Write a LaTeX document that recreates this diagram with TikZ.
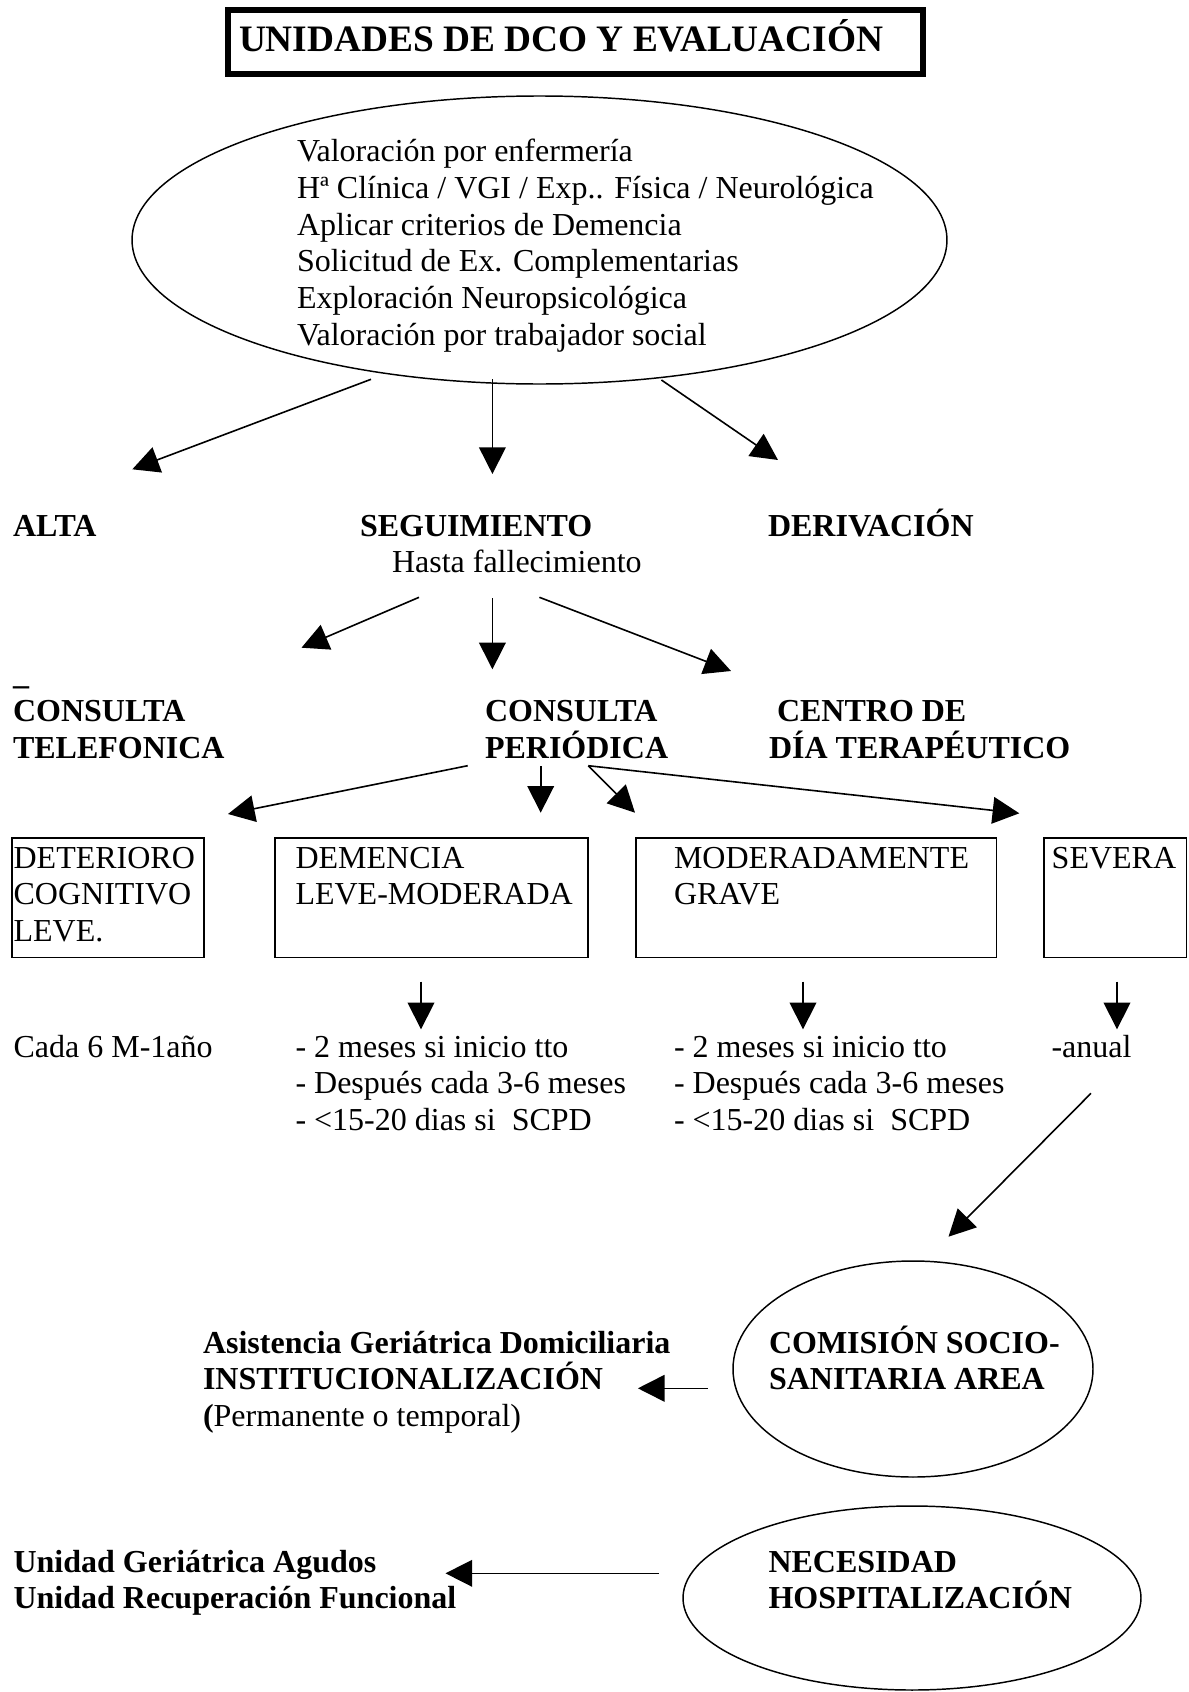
\documentclass[tikz,border=0pt]{standalone}
\usepackage{fontspec}
\setmainfont{Liberation Serif}
\usetikzlibrary{arrows.meta,shapes.geometric}
\begin{document}
\begin{tikzpicture}[x=0.375pt,y=-0.375pt,
  every node/.style={inner sep=0pt,outer sep=0pt},
  % multi-line text nodes are placed by the baseline of their last line
  txt/.style={font=\fontsize{12}{13.8}\selectfont,anchor=base west,align=left},
  bld/.style={txt,font=\fontsize{12}{13.8}\selectfont\bfseries},
  frame/.style={draw,line width=0.55pt},
  oval/.style={draw,ellipse,line width=0.55pt},
  arr/.style={line width=0.6pt,-{Triangle[length=10pt,width=10pt]}},
]
\useasboundingbox (0,0) rectangle (1188,1692);

% heading
\node[draw,line width=2.25pt,minimum width=260.6pt,minimum height=24pt] (head) at (575.5,42) {};
\node[anchor=base west,font=\fontsize{14}{16}\selectfont\bfseries] (headtxt) at (239,51) {UNIDADES DE DCO Y EVALUACIÓN};

% assessment ellipse
\node[oval,minimum width=305.6pt,minimum height=108pt] (eval) at (539.5,240) {};
\node[txt] (evaltxt) at (297,345.5) {Valoración por enfermería\\
Hª Clínica / VGI / Exp.. Física / Neurológica\\
Aplicar criterios de Demencia\\
Solicitud de Ex. Complementarias\\
Exploración Neuropsicológica\\
Valoración por trabajador social};

% first level
\node[bld] (alta) at (13,536.5) {ALTA};
\node[bld] (seg) at (360,536.5) {SEGUIMIENTO};
\node[txt] (hasta) at (392,572) {Hasta fallecimiento};
\node[bld] (deriv) at (768,536.5) {DERIVACIÓN};

% second level
\node[bld] (bar) at (13,684.5) {\_};
\node[bld] (tel) at (13,758.3) {CONSULTA\\TELEFONICA};
\node[bld] (per) at (485,758.3) {CONSULTA\\PERIÓDICA};
\node[bld] (dia) at (769,758.3) {\hspace*{3pt}CENTRO DE\\DÍA TERAPÉUTICO};

% stage boxes
\node[frame,minimum width=72pt,minimum height=44.8pt] (b1) at (108,897.75) {};
\node[frame,minimum width=117.4pt,minimum height=44.8pt] (b2) at (431.5,897.75) {};
\node[frame,minimum width=135.2pt,minimum height=44.8pt] (b3) at (816.25,897.75) {};
\node[frame,minimum width=53.4pt,minimum height=44.8pt] (b4) at (1115.25,897.75) {};
\node[txt] (b1txt) at (13.6,941.6) {DETERIORO\\COGNITIVO\\LEVE.};
\node[txt] (b2txt) at (295.5,904.8) {DEMENCIA\\LEVE-MODERADA};
\node[txt] (b3txt) at (674,904.8) {MODERADAMENTE\\GRAVE};
\node[txt] (b4txt) at (1051.7,868) {SEVERA};

% follow-up intervals
\node[txt] (f1) at (13.6,1057) {Cada 6 M-1año};
\node[txt] (f2) at (295.5,1130.6) {- 2 meses si inicio tto\\- Después cada 3-6 meses\\- <15-20 dias si~ SCPD};
\node[txt] (f3) at (674,1130.6) {- 2 meses si inicio tto\\- Después cada 3-6 meses\\- <15-20 dias si~ SCPD};
\node[txt] (f4) at (1051.5,1057) {-anual};

% commission and hospital
\node[oval,minimum width=135pt,minimum height=81pt] (com) at (913,1369) {};
\node[bld] (comtxt) at (769,1389.8) {COMISIÓN SOCIO-\\SANITARIA AREA};
\node[txt] (asis) at (203,1426.6) {\textbf{Asistencia Geriátrica Domiciliaria}\\\textbf{INSTITUCIONALIZACIÓN}\\\textbf{(}Permanente o temporal)};
\node[oval,minimum width=171.75pt,minimum height=69pt] (hosp) at (912,1598) {};
\node[bld] (hosptxt) at (768.5,1608.8) {NECESIDAD\\HOSPITALIZACIÓN};
\node[bld] (unid) at (13.6,1608.8) {Unidad Geriátrica Agudos\\Unidad Recuperación Funcional};

% connector end points
\coordinate (e1s) at (371,379.3);   \coordinate (e1t) at (132.3,469.3);
\coordinate (e2s) at (492.4,379.3); \coordinate (e2t) at (492.4,474);
\coordinate (e3s) at (661.4,380);   \coordinate (e3t) at (778,460);
\coordinate (s1s) at (419,597.3);   \coordinate (s1t) at (301.5,647.7);
\coordinate (s2s) at (492.4,598.3); \coordinate (s2t) at (492.4,669.3);
\coordinate (s3s) at (539.4,597.3); \coordinate (s3t) at (731,671);
\coordinate (p1s) at (467.7,765.7); \coordinate (p1t) at (228,814);
\coordinate (p2s) at (540.7,766);   \coordinate (p2t) at (540.7,812.7);
\coordinate (p3s) at (588.3,765.7); \coordinate (p3t) at (635,812.7);
\coordinate (p4t) at (1019.3,813.3);
\coordinate (d1s) at (421,981.7);   \coordinate (d1t) at (421,1029.3);
\coordinate (d2s) at (803,981.7);   \coordinate (d2t) at (803,1029.3);
\coordinate (d3s) at (1117,981.7);  \coordinate (d3t) at (1117,1029.3);
\coordinate (a1s) at (1091,1093.3); \coordinate (a1t) at (948.5,1236.7);
\coordinate (c1s) at (707.6,1388.3); \coordinate (c1t) at (637.9,1388.3);
\coordinate (h1s) at (659,1573.3);  \coordinate (h1t) at (445.5,1573.3);

% connectors
\draw[arr] (e1s) -- (e1t);
\draw[arr] (e2s) -- (e2t);
\draw[arr] (e3s) -- (e3t);
\draw[arr] (s1s) -- (s1t);
\draw[arr] (s2s) -- (s2t);
\draw[arr] (s3s) -- (s3t);
\draw[arr] (p1s) -- (p1t);
\draw[arr] (p2s) -- (p2t);
\draw[arr] (p3s) -- (p3t);
\draw[arr] (p3s) -- (p4t);
\draw[arr] (d1s) -- (d1t);
\draw[arr] (d2s) -- (d2t);
\draw[arr] (d3s) -- (d3t);
\draw[arr] (a1s) -- (a1t);
\draw[arr] (c1s) -- (c1t);
\draw[arr] (h1s) -- (h1t);
\end{tikzpicture}
\end{document}
